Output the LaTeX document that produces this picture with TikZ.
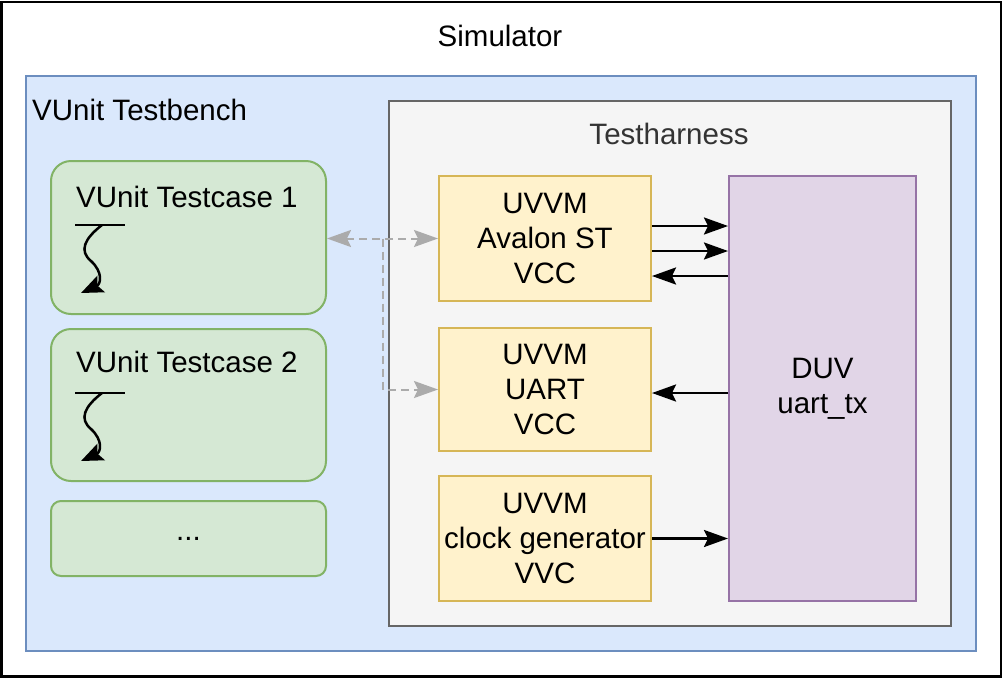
\documentclass[tikz,border=0pt]{standalone}
\usepackage{fontspec}
\setmainfont{Liberation Sans}
\usetikzlibrary{arrows.meta}

\definecolor{benchfill}{HTML}{DAE8FC}
\definecolor{benchline}{HTML}{6C8EBF}
\definecolor{harnfill}{HTML}{F5F5F5}
\definecolor{harnline}{HTML}{666666}
\definecolor{harntext}{HTML}{333333}
\definecolor{tcfill}{HTML}{D5E8D4}
\definecolor{tcline}{HTML}{82B366}
\definecolor{vccfill}{HTML}{FFF2CC}
\definecolor{vccline}{HTML}{D6B656}
\definecolor{duvfill}{HTML}{E1D5E7}
\definecolor{duvline}{HTML}{9673A6}
\definecolor{linkgray}{HTML}{ABABAB}

\tikzset{
  box/.style={draw, line width=2pt, inner sep=0pt, align=center},
  tcbox/.style={box, fill=tcfill, draw=tcline, rounded corners=20pt, minimum width=275pt},
  vccbox/.style={box, fill=vccfill, draw=vccline, minimum width=212pt, minimum height=125pt},
  tip/.tip={Stealth[length=24pt, width=17pt, inset=4pt]},
  sig/.style={line width=2.5pt, -tip},
  link/.style={line width=2pt, linkgray, dash pattern=on 8pt off 5pt},
}

\begin{document}
\begin{tikzpicture}[x=1pt, y=-1pt, font=\fontsize{29.5}{35}\selectfont]
  \useasboundingbox (0,0) rectangle (1003,678);

  % containers
  \node[box, fill=white, line width=2.5pt, minimum width=999.5pt, minimum height=674.5pt] (sim) at (501.25,339) {};
  \node (simlabel) at (500,36) {Simulator};
  \node[box, fill=benchfill, draw=benchline, minimum width=950pt, minimum height=575pt] (bench) at (501,363.5) {};
  \node[anchor=west, inner sep=0pt] (benchlabel) at (32,110) {VUnit Testbench};
  \node[box, fill=harnfill, draw=harnline, minimum width=562pt, minimum height=525pt] (harness) at (670,363.5) {};
  \node[harntext] (harnlabel) at (669,134) {Testharness};

  % testcases
  \node[tcbox, minimum height=153pt] (tc1) at (188.5,237.5) {};
  \node[tcbox, minimum height=152pt] (tc2) at (188.5,405) {};
  \node[tcbox, minimum height=75pt, rounded corners=10pt] (tcmore) at (188.5,538.5) {...};
  \node[anchor=west, inner sep=0pt] (tc1label) at (76,197) {VUnit Testcase 1};
  \node[anchor=west, inner sep=0pt] (tc2label) at (76,362) {VUnit Testcase 2};

  \foreach \tc in {tc1,tc2} {
    \begin{scope}[shift={(\tc.north west)}]
      \draw[line width=2.5pt] (25,65) -- (75,65);
      \draw[line width=2.5pt, -{Stealth[length=22pt, width=18pt, inset=4pt]}]
        (52,65) .. controls (34,79) and (29,91) .. (41,101)
        .. controls (53,112) and (51,124) .. (31,133);
    \end{scope}
  }

  % verification components
  \node[vccbox] (avalon) at (545,238.5) {UVVM\\Avalon ST\\VCC};
  \node[vccbox, minimum height=123pt] (uart) at (545,389.5) {UVVM\\UART\\VCC};
  \node[vccbox] (clkgen) at (545,538.5) {UVVM\\clock generator\\VVC};

  % design under verification
  \node[box, fill=duvfill, draw=duvline, minimum width=187pt, minimum height=425pt] (duv) at (822.5,388.5) {DUV\\uart\_tx};

  % signals
  \coordinate (av1) at ([yshift=12.5pt]avalon.east);
  \coordinate (av2) at ([yshift=-12.5pt]avalon.east);
  \coordinate (av3) at ([yshift=-37.5pt]avalon.east);
  \coordinate (ua1) at ([yshift=-3.5pt]uart.east);
  \draw[sig] (av1) -- (av1 -| duv.west);
  \draw[sig] (av2) -- (av2 -| duv.west);
  \draw[sig] (av3 -| duv.west) -- (av3);
  \draw[sig] (ua1 -| duv.west) -- (ua1);
  \draw[sig] (clkgen.east) -- (clkgen.east -| duv.west);

  % testcase to VCC links
  \coordinate (split) at (383,238.5);
  \draw[link, tip-tip] (tc1.east |- split) -- (avalon.west);
  \draw[link, -tip] (split) |- (uart.west);
\end{tikzpicture}
\end{document}
